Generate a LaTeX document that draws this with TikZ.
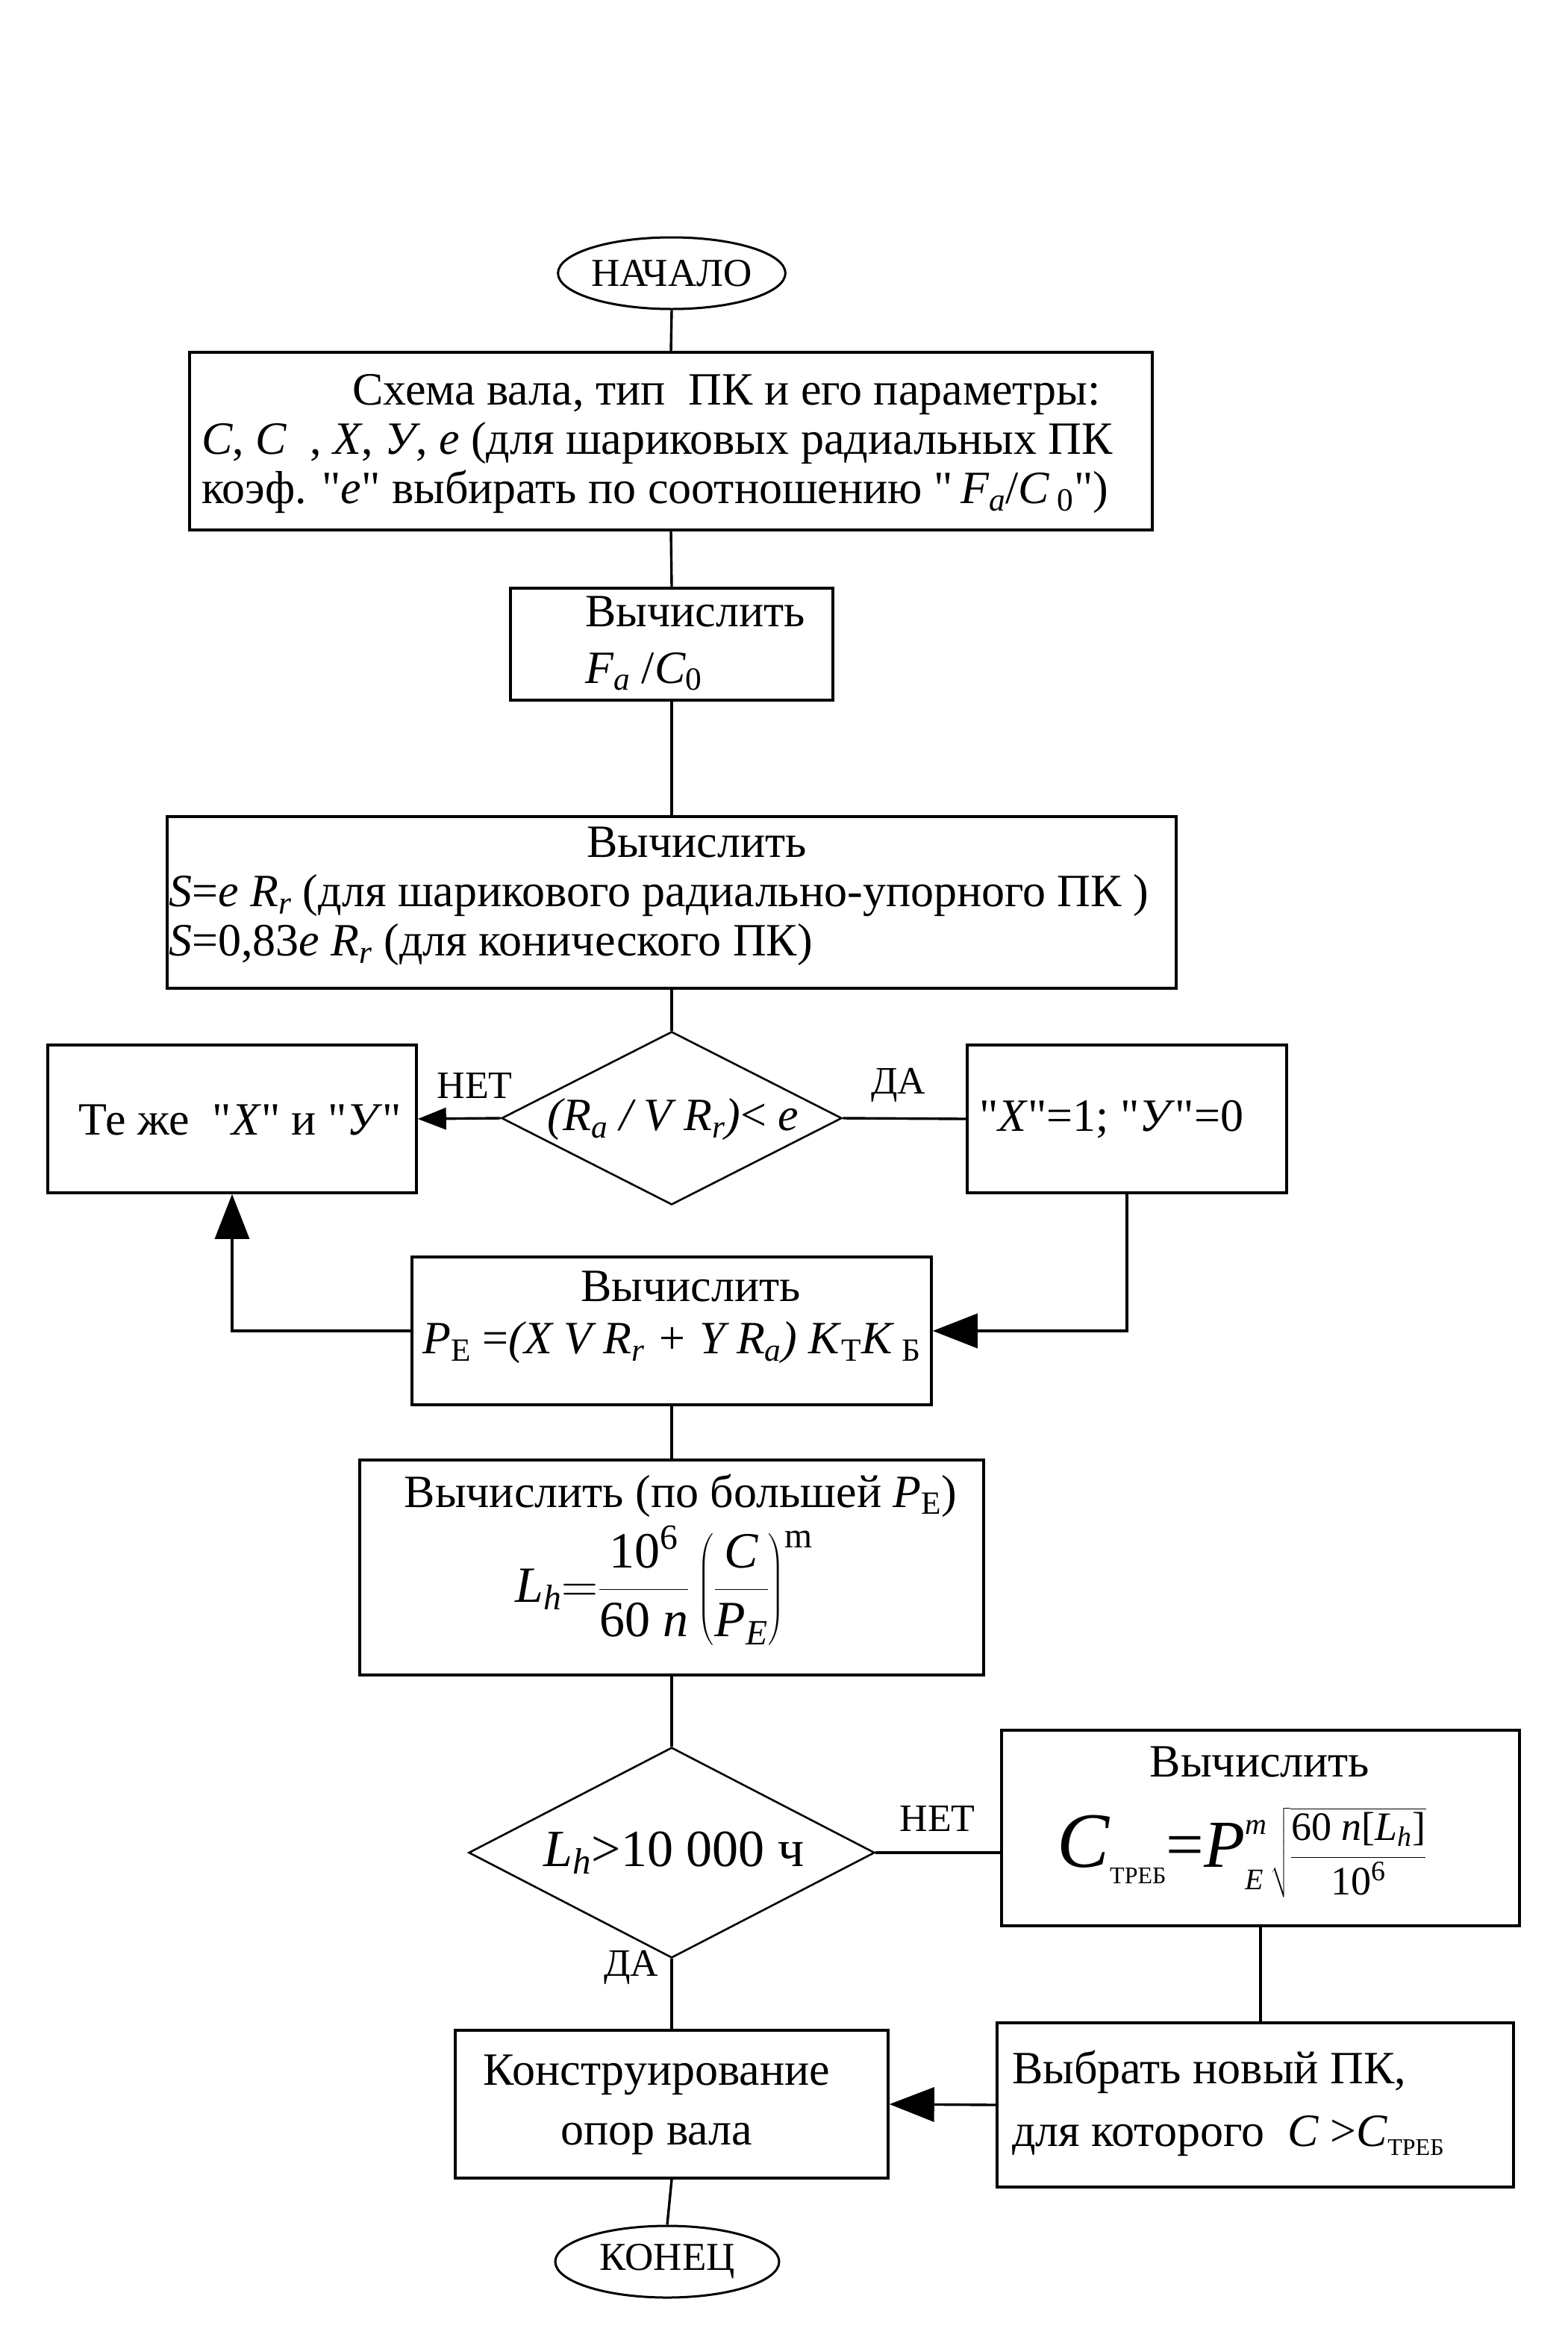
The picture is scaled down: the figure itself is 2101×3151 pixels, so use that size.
\RequirePackage{fix-cm}
\documentclass[tikz,border=0pt]{standalone}
\usepackage{amsmath}
\usepackage{fontspec}
\setmainfont{Liberation Serif}[Ligatures=TeXOff]
\usetikzlibrary{shapes.geometric,arrows.meta}
\newcommand{\fs}[1]{\fontsize{#1}{#1}\selectfont}
\begin{document}
\begin{tikzpicture}[x=1pt,y=-1pt,
  box/.style={draw, line width=3.6pt, rectangle, inner sep=0pt},
  oval/.style={draw, line width=3pt, ellipse, inner sep=0pt, minimum width=300pt, minimum height=96pt, font=\fontsize{53}{56}\selectfont},
  dia/.style={draw, line width=2.6pt, diamond, inner sep=0pt},
  txt/.style={inner sep=0pt, align=left, font=\fontsize{62}{66}\selectfont},
  lbl/.style={inner sep=0pt, font=\fontsize{52}{56}\selectfont},
  con/.style={line width=3.4pt},
  big/.style={con, -{Triangle[length=60pt,width=46pt]}},
  small/.style={con, -{Triangle[length=38pt,width=29pt]}}]
\fill[white] (0,0) rectangle (2101,3151);
\path[use as bounding box] (0,0) rectangle (2101,3151);

% shapes
\node[oval] (start) at (900,366) {НАЧАЛО};
\node[box, minimum width=1290pt, minimum height=238pt] (b1) at (899,591) {};
\node[box, minimum width=432pt, minimum height=150pt] (b2) at (900,863) {};
\node[box, minimum width=1352pt, minimum height=230pt] (b3) at (900,1209) {};
\node[dia, minimum width=456pt, minimum height=232pt] (d1) at (900,1498) {};
\node[box, minimum width=494pt, minimum height=198pt] (bl) at (311,1499) {};
\node[box, minimum width=428pt, minimum height=198pt] (br) at (1510,1499) {};
\node[box, minimum width=696pt, minimum height=198pt] (bp) at (900,1783) {};
\node[box, minimum width=836pt, minimum height=288pt] (bL) at (900,2100) {};
\node[dia, minimum width=544pt, minimum height=282pt] (d2) at (900,2482) {};
\node[box, minimum width=694pt, minimum height=262pt] (bc) at (1689,2449) {};
\node[box, minimum width=580pt, minimum height=198pt] (bk) at (900,2819) {};
\node[box, minimum width=692pt, minimum height=220pt] (bv) at (1682,2820) {};
\node[oval] (end) at (894,3030) {КОНЕЦ};

% texts
\node[txt, anchor=west] (t1) at (270,595) {\hspace*{202pt}Схема вала, тип\ \ ПК и его параметры:\\
\textit{C}, \textit{C}\ \ , \textit{X}, \textit{У}, \textit{e} (для шариковых радиальных ПК\\
коэф. "\textit{e}" выбирать по соотношению "\,\textit{F\textsubscript{a}}/\textit{C}\,\textsubscript{0}")};
\node[txt, anchor=west, font=\fontsize{62}{76}\selectfont] (t2) at (784,862) {Вычислить\\ \textit{F\textsubscript{a}} /\textit{C}\textsubscript{0}};
\node[txt, anchor=west] (t3) at (226,1201) {\hspace*{560pt}Вычислить\\
\textit{S}=\textit{e R\textsubscript{r}} (для шарикового радиально-упорного ПК )\\
\textit{S}=0,83\textit{e R\textsubscript{r}} (для конического ПК)};
\node[txt] (td1) at (902,1500) {\textit{(R\textsubscript{a} / V R\textsubscript{r})}< \textit{e}};
\node[txt] (tl) at (322,1500) {Те же\ \ "\textit{X}" и "\textit{У}"};
\node[txt, anchor=west] (tr) at (1312,1500) {"\textit{X}"=1; "\textit{У}"=0};
\node[txt, anchor=west, font=\fontsize{62}{70}\selectfont] (tp) at (566,1765) {\hspace*{212pt}Вычислить\\
\textit{P}\textsubscript{Е} =\textit{(X V R\textsubscript{r} + Y R\textsubscript{a})} \textit{K}\textsubscript{Т}\textit{K}\,\textsubscript{Б}};
\node[txt] (tLa) at (912,2004) {Вычислить (по большей \textit{P}\textsubscript{Е})};
\node[txt, font=\fontsize{68}{70}\selectfont] (tLb) at (890,2124) {$\textit{L}_{\text{\textit{h}}}{=}\dfrac{\text{10\textsuperscript{6}}}{\text{60 \textit{n}}}\left(\dfrac{\text{\textit{C}}}{\text{\textit{P}\textsubscript{\textit{E}}}}\right)^{\text{m}}$};
\node[txt, font=\fontsize{70}{72}\selectfont] (td2) at (903,2482) {\textit{L}\textsubscript{\textit{h}}>10 000 ч};
\node[txt] (tca) at (1688,2360) {Вычислить};
\node[txt, anchor=west] (tcb) at (1416,2482) {{\fs{105}\textit{C}}\raisebox{-22pt}{\fs{32}ТРЕБ}{\fs{90}=\textit{P}}\makebox[0pt][l]{\raisebox{44pt}{\fs{40}\textit{m}}}\raisebox{-30pt}{\fs{40}\textit{E}}\kern10pt{\fs{54}$\sqrt{\rule[-34pt]{0pt}{100pt}\dfrac{\text{60 \textit{n}[\textit{L}\textsubscript{\textit{h}}]}}{\text{10\textsuperscript{6}}}}$}};
\node[txt, align=center, font=\fontsize{62}{80}\selectfont] (tk) at (880,2820) {Конструирование\\опор вала};
\node[txt, anchor=west, font=\fontsize{62}{84}\selectfont] (tv) at (1356,2818) {Выбрать новый ПК,\\для которого\ \ \textit{C} >\textit{C}\raisebox{-12pt}{\fs{32}ТРЕБ}};

% labels
\node[lbl] (n1) at (636,1454) {НЕТ};
\node[lbl] (y1) at (1204,1454) {ДА};
\node[lbl] (n2) at (1256,2436) {НЕТ};
\node[lbl] (y2) at (846,2636) {ДА};

% connectors
\draw[con] (start.south) -- (b1.north);
\draw[con] (b1.south) -- (b2.north);
\draw[con] (b2.south) -- (b3.north);
\draw[con] (b3.south) -- (d1.north);
\draw[small] (d1.west) -- (bl.east);
\draw[con] (d1.east) -- (br.west);
\draw[big] (br.south) |- (bp.east);
\draw[big] (bp.west) -| (bl.south);
\draw[con] (bp.south) -- (bL.north);
\draw[con] (bL.south) -- (d2.north);
\draw[con] (d2.east) -- (d2.east -| bc.west);
\draw[con] (bc.south) -- (bc.south |- bv.north);
\draw[big] (bv.west) -- (bk.east);
\draw[con] (d2.south) -- (bk.north);
\draw[con] (bk.south) -- (end.north);
\end{tikzpicture}
\end{document}
